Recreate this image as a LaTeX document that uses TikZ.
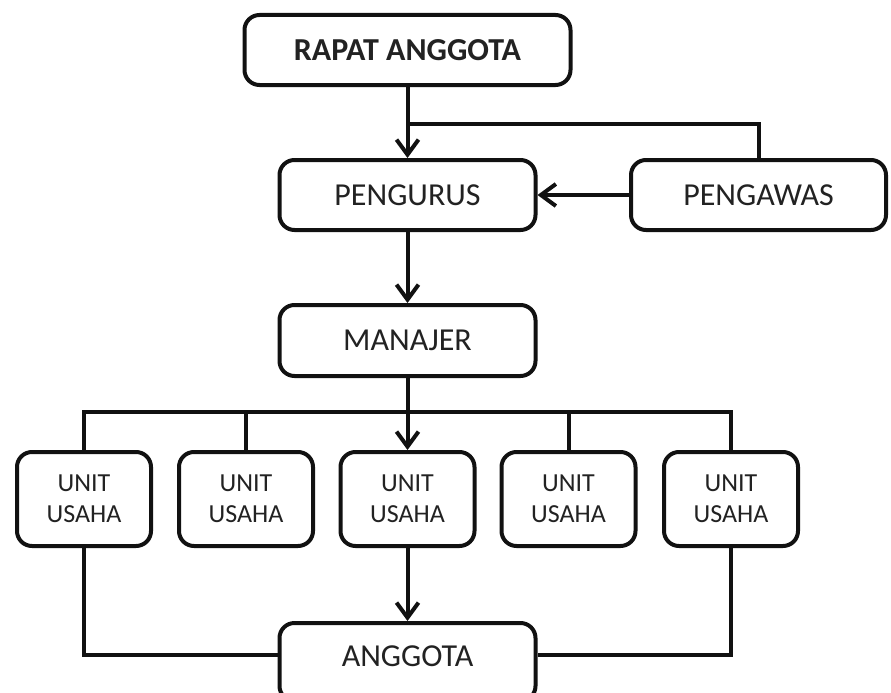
\documentclass[tikz,border=0pt]{standalone}
\usepackage{fontspec}
\setmainfont{Carlito}
\usetikzlibrary{arrows.meta}
\definecolor{ink}{HTML}{111111}
\definecolor{txt}{HTML}{222222}
\begin{document}
\begin{tikzpicture}[x=1pt,y=-1pt,
  box/.style={draw=ink,line width=4pt,rounded corners=15pt,fill=white,text=txt,inner sep=0pt},
  mainbox/.style={box,minimum width=256pt,minimum height=70pt,font=\fontsize{32}{38}\selectfont},
  unitbox/.style={box,minimum width=134pt,minimum height=94pt,align=center,font=\fontsize{26}{31}\selectfont},
  conn/.style={draw=ink,line width=4pt},
  arr/.style={conn,-{Straight Barb[length=15pt,width=22pt]}}]
\useasboundingbox (0,0) rectangle (891,693);
\clip (0,0) rectangle (891,693);
\node[mainbox,minimum width=326pt,font=\bfseries\fontsize{32}{38}\selectfont] (rapat) at (407.5,50) {RAPAT ANGGOTA};
\node[mainbox] (pengurus) at (407.5,195) {PENGURUS};
\node[mainbox,minimum width=255pt] (pengawas) at (758.5,195) {PENGAWAS};
\node[mainbox,minimum height=71pt] (manajer) at (407.5,340.5) {MANAJER};
\node[unitbox] (u1) at (84,499) {UNIT\\USAHA};
\node[unitbox] (u2) at (246,499) {UNIT\\USAHA};
\node[unitbox] (u3) at (407.5,499) {UNIT\\USAHA};
\node[unitbox] (u4) at (568.5,499) {UNIT\\USAHA};
\node[unitbox] (u5) at (731,499) {UNIT\\USAHA};
\node[box,anchor=base,minimum width=256pt,text height=43pt,text depth=35pt,font=\fontsize{32}{38}\selectfont] (anggota) at (407.5,666) {ANGGOTA};
\coordinate (j1) at (407.5,124);
\coordinate (bus) at (407.5,412);
\draw[arr] (rapat.south) -- (pengurus.north);
\draw[conn] (j1) -| (pengawas.north);
\draw[arr] (pengawas.west) -- (pengurus.east);
\draw[arr] (pengurus.south) -- (manajer.north);
\draw[arr] (manajer.south) -- (u3.north);
\draw[conn] (u1.north) |- (bus) -| (u5.north);
\draw[conn] (u2.north) |- (bus);
\draw[conn] (u4.north) |- (bus);
\draw[arr] (u3.south) -- (anggota.north);
\draw[conn] (u1.south) |- (anggota.west |- 0,655);
\draw[conn] (u5.south) |- (anggota.east |- 0,655);
\end{tikzpicture}
\end{document}
